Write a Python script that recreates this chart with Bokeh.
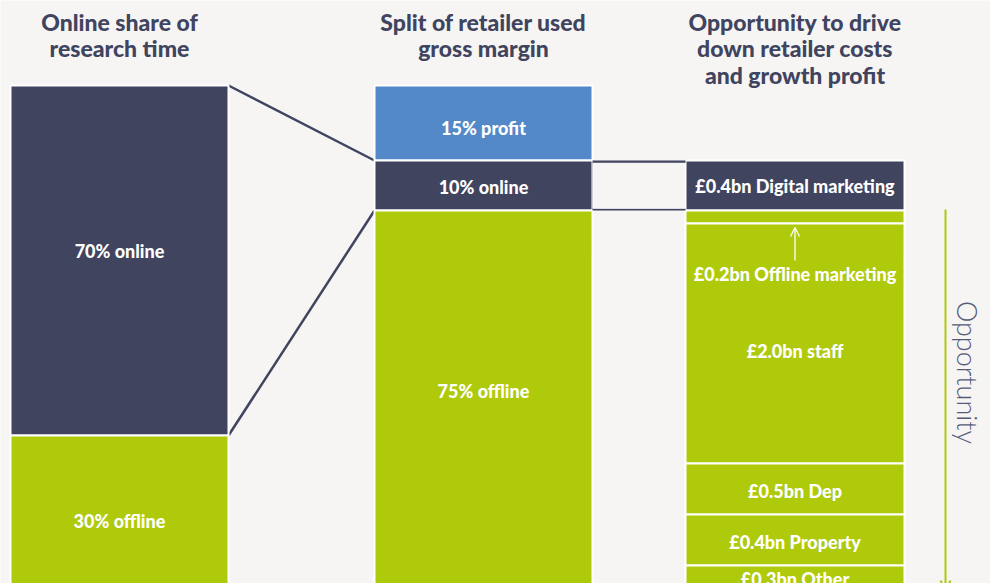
from bokeh.plotting import figure
from bokeh.models import Range1d, Arrow, OpenHead
from bokeh.core.properties import value
from bokeh.embed import file_html
from bokeh.resources import INLINE

# ---------------- data ----------------
col1_labels = ["70% online", "30% offline"]
col1_values = [70, 30]                      # % of research time

col2_labels = ["15% profit", "10% online", "75% offline"]
col2_values = [15, 10, 75]                  # % of gross margin

col3_labels = ["£0.4bn Digital marketing", "£0.2bn Offline marketing", "£2.0bn staff",
               "£0.5bn Dep", "£0.4bn Property", "£0.3bn Other"]
col3_bn = [0.4, 0.2, 2.0, 0.5, 0.4, 0.3]    # £bn
col3_heights = [10, 2.6, 48, 10.2, 10.2, 4.0]  # drawn height (margin points)

titles = [["Online share of", "research time"],
          ["Split of retailer used", "gross margin"],
          ["Opportunity to drive", "down retailer costs", "and growth profit"]]

# ---------------- style / layout ----------------
DARK = "#40445f"
GREEN = "#afca0b"
BLUE = "#5389c8"
BG = "#f6f5f3"
FONT = "Lato Heavy, Lato"
LIGHT_FONT = "Lato Light, Lato"

col1_colors = [DARK, GREEN]
col2_colors = [BLUE, DARK, GREEN]
col3_colors = [DARK] + [GREEN] * 5

col_left = [10, 374, 685]
col_right = [228, 592, 904]
col3_start = col2_values[0]                 # column 3 starts at the level of the profit split

col1_label_y = [33, 87]
col2_label_y = [8.4, 20.2, 61]
col3_label_y = [20, 37.6, 53, 81, 91.2, 98.6]

W, H = 990, 583
p = figure(width=W, height=H, output_backend="svg", toolbar_location=None,
           x_range=Range1d(0, W), y_range=Range1d(99.6, -17),
           min_border=0, background_fill_color=BG, border_fill_color=BG,
           outline_line_color=None)
p.xaxis.visible = False
p.yaxis.visible = False
p.grid.visible = False


def stack(values, start=0.0):
    tops, bottoms = [], []
    acc = start
    for v in values:
        tops.append(acc)
        acc += v
        bottoms.append(acc)
    return tops, bottoms


t1, b1 = stack(col1_values)
t2, b2 = stack(col2_values)
t3, b3 = stack(col3_heights, col3_start)

# connectors column 1 -> column 2 (online share)
p.line([col_right[0], col_left[1]], [t1[0], t2[1]], line_color=DARK, line_width=2.5)
p.line([col_right[0], col_left[1]], [b1[0], b2[1]], line_color=DARK, line_width=2.5)

# bars
for tops, bots, cols, i in [(t1, b1, col1_colors, 0), (t2, b2, col2_colors, 1), (t3, b3, col3_colors, 2)]:
    p.quad(left=[col_left[i]] * len(tops), right=[col_right[i]] * len(tops), top=tops, bottom=bots,
           fill_color=cols, line_color="white", line_width=2)

# connector box column 2 -> column 3 (online)
p.quad(left=[col_right[1]], right=[col_left[2]], top=[t2[1]], bottom=[b2[1]],
       fill_color=DARK, line_color=None)
p.quad(left=[col_right[1] + 0.5], right=[col_left[2]], top=[t2[1] + 0.55], bottom=[b2[1] - 0.45],
       fill_color=BG, line_color="white", line_width=1)

# bar labels
def labels(x, ys, texts):
    p.text(x=[x] * len(ys), y=ys, text=texts, text_color="white", text_font=value(FONT),
           text_font_style="bold", text_font_size="18px", text_align="center",
           text_baseline="middle")


labels((col_left[0] + col_right[0]) / 2, col1_label_y, col1_labels)
labels((col_left[1] + col_right[1]) / 2, col2_label_y, col2_labels)
labels((col_left[2] + col_right[2]) / 2, col3_label_y, col3_labels)

# small arrow pointing to offline marketing strip
cx3 = (col_left[2] + col_right[2]) / 2
p.add_layout(Arrow(x_start=cx3, y_start=t3[2] + 7.4, x_end=cx3, y_end=t3[2] + 0.8,
                   line_color="white", line_width=1.3,
                   end=OpenHead(size=9, line_color="white", line_width=1.3)))

# opportunity arrow
p.add_layout(Arrow(x_start=945, y_start=b2[1] - 0.2, x_end=945, y_end=101,
                   line_color=GREEN, line_width=2,
                   end=OpenHead(size=10, line_color=GREEN, line_width=2)))
p.text(x=[967], y=[57.4], text=["Opportunity"], angle=-1.5707963, text_color="#555a78",
       text_font=value(LIGHT_FONT), text_font_size="27px", text_align="center",
       text_baseline="middle")

# titles
centers = [(l + r) / 2 for l, r in zip(col_left, col_right)]
for cx, lines in zip(centers, titles):
    ys = [-12.8 + 5.3 * k for k in range(len(lines))]
    p.text(x=[cx] * len(lines), y=ys, text=lines, text_color=DARK, text_font=value(FONT),
           text_font_style="bold", text_font_size="23px", text_align="center",
           text_baseline="middle")

open("out.html", "w").write(file_html(p, INLINE))
